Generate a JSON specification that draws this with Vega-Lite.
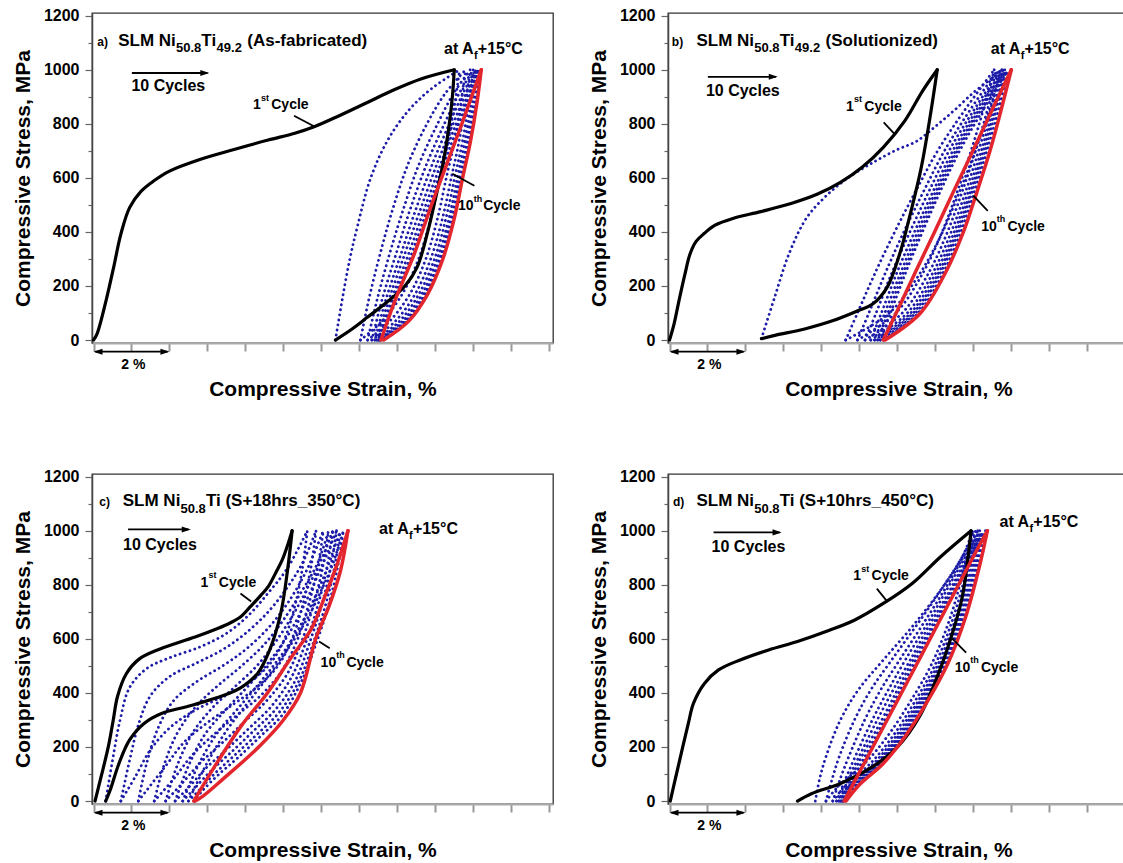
{
"$schema": "https://vega.github.io/schema/vega-lite/v6.json",
"padding": {"left": 11, "top": 7, "right": 0, "bottom": 0},
"autosize": {"type": "pad"},
"config": {"font": "Liberation Sans", "view": {"stroke": "#333", "strokeWidth": 1.3}, "axis": {"grid": false},
"axisX": {"values": [0,2,4,6,8,10,12], "labels": false, "tickSize": 8, "tickWidth": 2, "tickColor": "#999", "domainColor": "#aaa", "domainWidth": 2, "titleFont": "Liberation Sans", "titleFontSize": 21, "titleFontWeight": "bold", "titleColor": "#000", "titlePadding": 26},
"axisY": {"values": [0,20,40,60,80,100,120,140,160,180,200,220,240,260,280,300,320,340,360,380,400,420,440,460,480,500,520,540,560,580,600,620,640,660,680,700,720,740,760,780,800,820,840,860,880,900,920,940,960,980,1000,1020,1040,1060,1080,1100,1120,1140,1160,1180,1200], "labelOverlap": false, "labelFont": "Liberation Sans", "labelFontSize": 16, "labelFontWeight": "bold", "labelColor": "#000", "labelPadding": 6, "tickColor": "#666", "tickWidth": 1.2, "domainColor": "#444", "domainWidth": 1.5, "titleFont": "Liberation Sans", "titleFontSize": 21, "titleFontWeight": "bold", "titleColor": "#000", "titlePadding": 10},
"text": {"font": "Liberation Sans", "fontWeight": "bold", "color": "#000", "baseline": "alphabetic", "align": "left"}},
"data": {"values": [
{"p":"a","c":1,"g":"L","x":0,"y":0},{"p":"a","c":1,"g":"L","x":0.09,"y":22},{"p":"a","c":1,"g":"L","x":0.33,"y":146},{"p":"a","c":1,"g":"L","x":0.53,"y":269},{"p":"a","c":1,"g":"L","x":0.72,"y":392},{"p":"a","c":1,"g":"L","x":0.95,"y":490},{"p":"a","c":1,"g":"L","x":1.25,"y":550},{"p":"a","c":1,"g":"L","x":1.6,"y":590},{"p":"a","c":1,"g":"L","x":2.0,"y":625},{"p":"a","c":1,"g":"L","x":2.8,"y":668},{"p":"a","c":1,"g":"L","x":3.7,"y":705},{"p":"a","c":1,"g":"L","x":4.6,"y":740},{"p":"a","c":1,"g":"L","x":5.3,"y":765},{"p":"a","c":1,"g":"L","x":5.81,"y":789},{"p":"a","c":1,"g":"L","x":6.47,"y":830},{"p":"a","c":1,"g":"L","x":7.21,"y":879},{"p":"a","c":1,"g":"L","x":7.87,"y":923},{"p":"a","c":1,"g":"L","x":8.62,"y":966},{"p":"a","c":1,"g":"L","x":9.5,"y":1000},
{"p":"a","c":1,"g":"U","x":9.5,"y":1000},{"p":"a","c":1,"g":"U","x":9.45,"y":900},{"p":"a","c":1,"g":"U","x":9.35,"y":780},{"p":"a","c":1,"g":"U","x":9.2,"y":650},{"p":"a","c":1,"g":"U","x":9.0,"y":520},{"p":"a","c":1,"g":"U","x":8.8,"y":400},{"p":"a","c":1,"g":"U","x":8.52,"y":269},{"p":"a","c":1,"g":"U","x":8.2,"y":200},{"p":"a","c":1,"g":"U","x":7.78,"y":146},{"p":"a","c":1,"g":"U","x":7.21,"y":84},{"p":"a","c":1,"g":"U","x":6.8,"y":40},{"p":"a","c":1,"g":"U","x":6.37,"y":0},
{"p":"a","c":2,"g":"L","x":6.37,"y":0},{"p":"a","c":2,"g":"L","x":6.55,"y":150},{"p":"a","c":2,"g":"L","x":6.75,"y":300},{"p":"a","c":2,"g":"L","x":6.95,"y":420},{"p":"a","c":2,"g":"L","x":7.3,"y":600},{"p":"a","c":2,"g":"L","x":7.75,"y":740},{"p":"a","c":2,"g":"L","x":8.3,"y":850},{"p":"a","c":2,"g":"L","x":8.9,"y":930},{"p":"a","c":2,"g":"L","x":9.64,"y":1000},
{"p":"a","c":2,"g":"U","x":9.64,"y":1000},{"p":"a","c":2,"g":"U","x":9.52,"y":880},{"p":"a","c":2,"g":"U","x":9.33,"y":730},{"p":"a","c":2,"g":"U","x":9.12,"y":600},{"p":"a","c":2,"g":"U","x":8.88,"y":450},{"p":"a","c":2,"g":"U","x":8.56,"y":300},{"p":"a","c":2,"g":"U","x":8.13,"y":170},{"p":"a","c":2,"g":"U","x":7.6,"y":70},{"p":"a","c":2,"g":"U","x":7.03,"y":0},
{"p":"a","c":3,"g":"L","x":7.03,"y":0},{"p":"a","c":3,"g":"L","x":7.25,"y":150},{"p":"a","c":3,"g":"L","x":7.55,"y":320},{"p":"a","c":3,"g":"L","x":7.87,"y":480},{"p":"a","c":3,"g":"L","x":8.28,"y":650},{"p":"a","c":3,"g":"L","x":8.78,"y":800},{"p":"a","c":3,"g":"L","x":9.25,"y":910},{"p":"a","c":3,"g":"L","x":9.8,"y":1000},
{"p":"a","c":3,"g":"U","x":9.8,"y":1000},{"p":"a","c":3,"g":"U","x":9.68,"y":880},{"p":"a","c":3,"g":"U","x":9.5,"y":730},{"p":"a","c":3,"g":"U","x":9.29,"y":600},{"p":"a","c":3,"g":"U","x":9.06,"y":450},{"p":"a","c":3,"g":"U","x":8.75,"y":300},{"p":"a","c":3,"g":"U","x":8.33,"y":170},{"p":"a","c":3,"g":"U","x":7.8,"y":70},{"p":"a","c":3,"g":"U","x":7.22,"y":0},
{"p":"a","c":4,"g":"L","x":7.22,"y":0},{"p":"a","c":4,"g":"L","x":7.47,"y":150},{"p":"a","c":4,"g":"L","x":7.8,"y":320},{"p":"a","c":4,"g":"L","x":8.15,"y":480},{"p":"a","c":4,"g":"L","x":8.57,"y":650},{"p":"a","c":4,"g":"L","x":9.06,"y":800},{"p":"a","c":4,"g":"L","x":9.47,"y":910},{"p":"a","c":4,"g":"L","x":9.92,"y":1000},
{"p":"a","c":4,"g":"U","x":9.92,"y":1000},{"p":"a","c":4,"g":"U","x":9.8,"y":880},{"p":"a","c":4,"g":"U","x":9.62,"y":730},{"p":"a","c":4,"g":"U","x":9.42,"y":600},{"p":"a","c":4,"g":"U","x":9.19,"y":450},{"p":"a","c":4,"g":"U","x":8.88,"y":300},{"p":"a","c":4,"g":"U","x":8.47,"y":170},{"p":"a","c":4,"g":"U","x":7.95,"y":70},{"p":"a","c":4,"g":"U","x":7.33,"y":0},
{"p":"a","c":5,"g":"L","x":7.33,"y":0},{"p":"a","c":5,"g":"L","x":7.6,"y":150},{"p":"a","c":5,"g":"L","x":7.97,"y":320},{"p":"a","c":5,"g":"L","x":8.33,"y":480},{"p":"a","c":5,"g":"L","x":8.77,"y":650},{"p":"a","c":5,"g":"L","x":9.24,"y":800},{"p":"a","c":5,"g":"L","x":9.62,"y":910},{"p":"a","c":5,"g":"L","x":10.0,"y":1000},
{"p":"a","c":5,"g":"U","x":10.0,"y":1000},{"p":"a","c":5,"g":"U","x":9.89,"y":880},{"p":"a","c":5,"g":"U","x":9.71,"y":730},{"p":"a","c":5,"g":"U","x":9.51,"y":600},{"p":"a","c":5,"g":"U","x":9.28,"y":450},{"p":"a","c":5,"g":"U","x":8.98,"y":300},{"p":"a","c":5,"g":"U","x":8.57,"y":170},{"p":"a","c":5,"g":"U","x":8.06,"y":70},{"p":"a","c":5,"g":"U","x":7.41,"y":0},
{"p":"a","c":6,"g":"L","x":7.41,"y":0},{"p":"a","c":6,"g":"L","x":7.7,"y":150},{"p":"a","c":6,"g":"L","x":8.1,"y":320},{"p":"a","c":6,"g":"L","x":8.48,"y":480},{"p":"a","c":6,"g":"L","x":8.92,"y":650},{"p":"a","c":6,"g":"L","x":9.37,"y":800},{"p":"a","c":6,"g":"L","x":9.72,"y":910},{"p":"a","c":6,"g":"L","x":10.06,"y":1000},
{"p":"a","c":6,"g":"U","x":10.06,"y":1000},{"p":"a","c":6,"g":"U","x":9.95,"y":880},{"p":"a","c":6,"g":"U","x":9.77,"y":730},{"p":"a","c":6,"g":"U","x":9.58,"y":600},{"p":"a","c":6,"g":"U","x":9.36,"y":450},{"p":"a","c":6,"g":"U","x":9.05,"y":300},{"p":"a","c":6,"g":"U","x":8.65,"y":170},{"p":"a","c":6,"g":"U","x":8.14,"y":70},{"p":"a","c":6,"g":"U","x":7.46,"y":0},
{"p":"a","c":7,"g":"L","x":7.46,"y":0},{"p":"a","c":7,"g":"L","x":7.78,"y":150},{"p":"a","c":7,"g":"L","x":8.2,"y":320},{"p":"a","c":7,"g":"L","x":8.6,"y":480},{"p":"a","c":7,"g":"L","x":9.04,"y":650},{"p":"a","c":7,"g":"L","x":9.47,"y":800},{"p":"a","c":7,"g":"L","x":9.8,"y":910},{"p":"a","c":7,"g":"L","x":10.11,"y":1000},
{"p":"a","c":7,"g":"U","x":10.11,"y":1000},{"p":"a","c":7,"g":"U","x":10.0,"y":880},{"p":"a","c":7,"g":"U","x":9.82,"y":730},{"p":"a","c":7,"g":"U","x":9.63,"y":600},{"p":"a","c":7,"g":"U","x":9.41,"y":450},{"p":"a","c":7,"g":"U","x":9.11,"y":300},{"p":"a","c":7,"g":"U","x":8.71,"y":170},{"p":"a","c":7,"g":"U","x":8.2,"y":70},{"p":"a","c":7,"g":"U","x":7.5,"y":0},
{"p":"a","c":8,"g":"L","x":7.5,"y":0},{"p":"a","c":8,"g":"L","x":7.85,"y":150},{"p":"a","c":8,"g":"L","x":8.3,"y":320},{"p":"a","c":8,"g":"L","x":8.7,"y":480},{"p":"a","c":8,"g":"L","x":9.14,"y":650},{"p":"a","c":8,"g":"L","x":9.55,"y":800},{"p":"a","c":8,"g":"L","x":9.87,"y":910},{"p":"a","c":8,"g":"L","x":10.15,"y":1000},
{"p":"a","c":8,"g":"U","x":10.15,"y":1000},{"p":"a","c":8,"g":"U","x":10.04,"y":880},{"p":"a","c":8,"g":"U","x":9.86,"y":730},{"p":"a","c":8,"g":"U","x":9.67,"y":600},{"p":"a","c":8,"g":"U","x":9.45,"y":450},{"p":"a","c":8,"g":"U","x":9.15,"y":300},{"p":"a","c":8,"g":"U","x":8.75,"y":170},{"p":"a","c":8,"g":"U","x":8.24,"y":70},{"p":"a","c":8,"g":"U","x":7.53,"y":0},
{"p":"a","c":9,"g":"L","x":7.53,"y":0},{"p":"a","c":9,"g":"L","x":7.9,"y":150},{"p":"a","c":9,"g":"L","x":8.38,"y":320},{"p":"a","c":9,"g":"L","x":8.78,"y":480},{"p":"a","c":9,"g":"L","x":9.22,"y":650},{"p":"a","c":9,"g":"L","x":9.62,"y":800},{"p":"a","c":9,"g":"L","x":9.92,"y":910},{"p":"a","c":9,"g":"L","x":10.18,"y":1000},
{"p":"a","c":9,"g":"U","x":10.18,"y":1000},{"p":"a","c":9,"g":"U","x":10.07,"y":880},{"p":"a","c":9,"g":"U","x":9.89,"y":730},{"p":"a","c":9,"g":"U","x":9.7,"y":600},{"p":"a","c":9,"g":"U","x":9.48,"y":450},{"p":"a","c":9,"g":"U","x":9.18,"y":300},{"p":"a","c":9,"g":"U","x":8.78,"y":170},{"p":"a","c":9,"g":"U","x":8.27,"y":70},{"p":"a","c":9,"g":"U","x":7.56,"y":0},
{"p":"a","c":10,"g":"L","x":7.57,"y":0},{"p":"a","c":10,"g":"L","x":7.95,"y":150},{"p":"a","c":10,"g":"L","x":8.45,"y":320},{"p":"a","c":10,"g":"L","x":8.85,"y":480},{"p":"a","c":10,"g":"L","x":9.3,"y":650},{"p":"a","c":10,"g":"L","x":9.7,"y":800},{"p":"a","c":10,"g":"L","x":9.98,"y":910},{"p":"a","c":10,"g":"L","x":10.21,"y":1000},
{"p":"a","c":10,"g":"U","x":10.21,"y":1000},{"p":"a","c":10,"g":"U","x":10.1,"y":880},{"p":"a","c":10,"g":"U","x":9.92,"y":730},{"p":"a","c":10,"g":"U","x":9.72,"y":600},{"p":"a","c":10,"g":"U","x":9.5,"y":450},{"p":"a","c":10,"g":"U","x":9.2,"y":300},{"p":"a","c":10,"g":"U","x":8.8,"y":170},{"p":"a","c":10,"g":"U","x":8.3,"y":70},{"p":"a","c":10,"g":"U","x":7.64,"y":0},

{"p":"b","c":1,"g":"L","x":0,"y":0},{"p":"b","c":1,"g":"L","x":0.12,"y":60},{"p":"b","c":1,"g":"L","x":0.25,"y":146},{"p":"b","c":1,"g":"L","x":0.4,"y":240},{"p":"b","c":1,"g":"L","x":0.54,"y":318},{"p":"b","c":1,"g":"L","x":0.7,"y":365},{"p":"b","c":1,"g":"L","x":0.92,"y":395},{"p":"b","c":1,"g":"L","x":1.2,"y":425},{"p":"b","c":1,"g":"L","x":1.67,"y":450},{"p":"b","c":1,"g":"L","x":2.4,"y":475},{"p":"b","c":1,"g":"L","x":3.2,"y":505},{"p":"b","c":1,"g":"L","x":3.9,"y":540},{"p":"b","c":1,"g":"L","x":4.5,"y":583},{"p":"b","c":1,"g":"L","x":5.07,"y":639},{"p":"b","c":1,"g":"L","x":5.63,"y":713},{"p":"b","c":1,"g":"L","x":6.2,"y":812},{"p":"b","c":1,"g":"L","x":6.67,"y":923},{"p":"b","c":1,"g":"L","x":7.05,"y":1000},
{"p":"b","c":1,"g":"U","x":7.05,"y":1000},{"p":"b","c":1,"g":"U","x":6.86,"y":824},{"p":"b","c":1,"g":"U","x":6.63,"y":639},{"p":"b","c":1,"g":"U","x":6.34,"y":466},{"p":"b","c":1,"g":"U","x":6.06,"y":318},{"p":"b","c":1,"g":"U","x":5.73,"y":195},{"p":"b","c":1,"g":"U","x":5.35,"y":133},{"p":"b","c":1,"g":"U","x":4.97,"y":109},{"p":"b","c":1,"g":"U","x":4.31,"y":72},{"p":"b","c":1,"g":"U","x":3.56,"y":41},{"p":"b","c":1,"g":"U","x":2.8,"y":18},{"p":"b","c":1,"g":"U","x":2.42,"y":5},
{"p":"b","c":2,"g":"L","x":2.42,"y":5},{"p":"b","c":2,"g":"L","x":2.75,"y":150},{"p":"b","c":2,"g":"L","x":3.15,"y":320},{"p":"b","c":2,"g":"L","x":3.6,"y":450},{"p":"b","c":2,"g":"L","x":4.1,"y":530},{"p":"b","c":2,"g":"L","x":4.7,"y":600},{"p":"b","c":2,"g":"L","x":5.4,"y":660},{"p":"b","c":2,"g":"L","x":6.0,"y":705},{"p":"b","c":2,"g":"L","x":6.5,"y":735},{"p":"b","c":2,"g":"L","x":7.0,"y":790},{"p":"b","c":2,"g":"L","x":7.5,"y":850},{"p":"b","c":2,"g":"L","x":8.0,"y":915},{"p":"b","c":2,"g":"L","x":8.45,"y":965},{"p":"b","c":2,"g":"L","x":8.75,"y":1000},
{"p":"b","c":2,"g":"U","x":8.75,"y":1000},{"p":"b","c":2,"g":"U","x":8.42,"y":850},{"p":"b","c":2,"g":"U","x":8.05,"y":700},{"p":"b","c":2,"g":"U","x":7.64,"y":550},{"p":"b","c":2,"g":"U","x":7.19,"y":400},{"p":"b","c":2,"g":"U","x":6.61,"y":250},{"p":"b","c":2,"g":"U","x":5.79,"y":100},{"p":"b","c":2,"g":"U","x":4.64,"y":0},
{"p":"b","c":3,"g":"L","x":4.64,"y":0},{"p":"b","c":3,"g":"L","x":4.95,"y":100},{"p":"b","c":3,"g":"L","x":5.42,"y":250},{"p":"b","c":3,"g":"L","x":5.93,"y":400},{"p":"b","c":3,"g":"L","x":6.48,"y":550},{"p":"b","c":3,"g":"L","x":7.06,"y":700},{"p":"b","c":3,"g":"L","x":7.77,"y":850},{"p":"b","c":3,"g":"L","x":8.55,"y":1000},
{"p":"b","c":3,"g":"U","x":8.55,"y":1000},{"p":"b","c":3,"g":"U","x":8.26,"y":850},{"p":"b","c":3,"g":"U","x":7.94,"y":700},{"p":"b","c":3,"g":"U","x":7.58,"y":550},{"p":"b","c":3,"g":"U","x":7.18,"y":400},{"p":"b","c":3,"g":"U","x":6.68,"y":250},{"p":"b","c":3,"g":"U","x":5.96,"y":100},{"p":"b","c":3,"g":"U","x":4.95,"y":0},
{"p":"b","c":4,"g":"L","x":4.95,"y":0},{"p":"b","c":4,"g":"L","x":5.25,"y":100},{"p":"b","c":4,"g":"L","x":5.69,"y":250},{"p":"b","c":4,"g":"L","x":6.17,"y":400},{"p":"b","c":4,"g":"L","x":6.69,"y":550},{"p":"b","c":4,"g":"L","x":7.24,"y":700},{"p":"b","c":4,"g":"L","x":7.91,"y":850},{"p":"b","c":4,"g":"L","x":8.65,"y":1000},
{"p":"b","c":4,"g":"U","x":8.65,"y":1000},{"p":"b","c":4,"g":"U","x":8.37,"y":850},{"p":"b","c":4,"g":"U","x":8.06,"y":700},{"p":"b","c":4,"g":"U","x":7.71,"y":550},{"p":"b","c":4,"g":"U","x":7.32,"y":400},{"p":"b","c":4,"g":"U","x":6.83,"y":250},{"p":"b","c":4,"g":"U","x":6.13,"y":100},{"p":"b","c":4,"g":"U","x":5.15,"y":0},
{"p":"b","c":5,"g":"L","x":5.15,"y":0},{"p":"b","c":5,"g":"L","x":5.44,"y":100},{"p":"b","c":5,"g":"L","x":5.86,"y":250},{"p":"b","c":5,"g":"L","x":6.33,"y":400},{"p":"b","c":5,"g":"L","x":6.83,"y":550},{"p":"b","c":5,"g":"L","x":7.36,"y":700},{"p":"b","c":5,"g":"L","x":8.01,"y":850},{"p":"b","c":5,"g":"L","x":8.72,"y":1000},
{"p":"b","c":5,"g":"U","x":8.72,"y":1000},{"p":"b","c":5,"g":"U","x":8.45,"y":850},{"p":"b","c":5,"g":"U","x":8.14,"y":700},{"p":"b","c":5,"g":"U","x":7.8,"y":550},{"p":"b","c":5,"g":"U","x":7.42,"y":400},{"p":"b","c":5,"g":"U","x":6.94,"y":250},{"p":"b","c":5,"g":"U","x":6.26,"y":100},{"p":"b","c":5,"g":"U","x":5.3,"y":0},
{"p":"b","c":6,"g":"L","x":5.3,"y":0},{"p":"b","c":6,"g":"L","x":5.58,"y":100},{"p":"b","c":6,"g":"L","x":5.99,"y":250},{"p":"b","c":6,"g":"L","x":6.45,"y":400},{"p":"b","c":6,"g":"L","x":6.94,"y":550},{"p":"b","c":6,"g":"L","x":7.46,"y":700},{"p":"b","c":6,"g":"L","x":8.08,"y":850},{"p":"b","c":6,"g":"L","x":8.78,"y":1000},
{"p":"b","c":6,"g":"U","x":8.78,"y":1000},{"p":"b","c":6,"g":"U","x":8.51,"y":850},{"p":"b","c":6,"g":"U","x":8.21,"y":700},{"p":"b","c":6,"g":"U","x":7.87,"y":550},{"p":"b","c":6,"g":"U","x":7.5,"y":400},{"p":"b","c":6,"g":"U","x":7.02,"y":250},{"p":"b","c":6,"g":"U","x":6.35,"y":100},{"p":"b","c":6,"g":"U","x":5.4,"y":0},
{"p":"b","c":7,"g":"L","x":5.4,"y":0},{"p":"b","c":7,"g":"L","x":5.67,"y":100},{"p":"b","c":7,"g":"L","x":6.09,"y":250},{"p":"b","c":7,"g":"L","x":6.53,"y":400},{"p":"b","c":7,"g":"L","x":7.01,"y":550},{"p":"b","c":7,"g":"L","x":7.53,"y":700},{"p":"b","c":7,"g":"L","x":8.14,"y":850},{"p":"b","c":7,"g":"L","x":8.83,"y":1000},
{"p":"b","c":7,"g":"U","x":8.83,"y":1000},{"p":"b","c":7,"g":"U","x":8.56,"y":850},{"p":"b","c":7,"g":"U","x":8.26,"y":700},{"p":"b","c":7,"g":"U","x":7.93,"y":550},{"p":"b","c":7,"g":"U","x":7.56,"y":400},{"p":"b","c":7,"g":"U","x":7.09,"y":250},{"p":"b","c":7,"g":"U","x":6.42,"y":100},{"p":"b","c":7,"g":"U","x":5.48,"y":0},
{"p":"b","c":8,"g":"L","x":5.48,"y":0},{"p":"b","c":8,"g":"L","x":5.75,"y":100},{"p":"b","c":8,"g":"L","x":6.16,"y":250},{"p":"b","c":8,"g":"L","x":6.6,"y":400},{"p":"b","c":8,"g":"L","x":7.07,"y":550},{"p":"b","c":8,"g":"L","x":7.58,"y":700},{"p":"b","c":8,"g":"L","x":8.19,"y":850},{"p":"b","c":8,"g":"L","x":8.87,"y":1000},
{"p":"b","c":8,"g":"U","x":8.87,"y":1000},{"p":"b","c":8,"g":"U","x":8.6,"y":850},{"p":"b","c":8,"g":"U","x":8.31,"y":700},{"p":"b","c":8,"g":"U","x":7.97,"y":550},{"p":"b","c":8,"g":"U","x":7.61,"y":400},{"p":"b","c":8,"g":"U","x":7.14,"y":250},{"p":"b","c":8,"g":"U","x":6.48,"y":100},{"p":"b","c":8,"g":"U","x":5.55,"y":0},
{"p":"b","c":9,"g":"L","x":5.55,"y":0},{"p":"b","c":9,"g":"L","x":5.82,"y":100},{"p":"b","c":9,"g":"L","x":6.22,"y":250},{"p":"b","c":9,"g":"L","x":6.66,"y":400},{"p":"b","c":9,"g":"L","x":7.13,"y":550},{"p":"b","c":9,"g":"L","x":7.64,"y":700},{"p":"b","c":9,"g":"L","x":8.25,"y":850},{"p":"b","c":9,"g":"L","x":8.92,"y":1000},
{"p":"b","c":9,"g":"U","x":8.92,"y":1000},{"p":"b","c":9,"g":"U","x":8.66,"y":850},{"p":"b","c":9,"g":"U","x":8.36,"y":700},{"p":"b","c":9,"g":"U","x":8.03,"y":550},{"p":"b","c":9,"g":"U","x":7.67,"y":400},{"p":"b","c":9,"g":"U","x":7.21,"y":250},{"p":"b","c":9,"g":"U","x":6.55,"y":100},{"p":"b","c":9,"g":"U","x":5.63,"y":0},
{"p":"b","c":10,"g":"L","x":5.63,"y":0},{"p":"b","c":10,"g":"L","x":5.97,"y":100},{"p":"b","c":10,"g":"L","x":6.47,"y":250},{"p":"b","c":10,"g":"L","x":6.98,"y":400},{"p":"b","c":10,"g":"L","x":7.48,"y":550},{"p":"b","c":10,"g":"L","x":7.99,"y":700},{"p":"b","c":10,"g":"L","x":8.49,"y":850},{"p":"b","c":10,"g":"L","x":9.0,"y":1000},
{"p":"b","c":10,"g":"U","x":9.0,"y":1000},{"p":"b","c":10,"g":"U","x":8.73,"y":850},{"p":"b","c":10,"g":"U","x":8.44,"y":700},{"p":"b","c":10,"g":"U","x":8.1,"y":550},{"p":"b","c":10,"g":"U","x":7.74,"y":400},{"p":"b","c":10,"g":"U","x":7.27,"y":250},{"p":"b","c":10,"g":"U","x":6.61,"y":100},{"p":"b","c":10,"g":"U","x":5.68,"y":0},

{"p":"c","c":1,"g":"L","x":0.04,"y":0},{"p":"c","c":1,"g":"L","x":0.2,"y":90},{"p":"c","c":1,"g":"L","x":0.39,"y":201},{"p":"c","c":1,"g":"L","x":0.52,"y":300},{"p":"c","c":1,"g":"L","x":0.63,"y":386},{"p":"c","c":1,"g":"L","x":0.86,"y":470},{"p":"c","c":1,"g":"L","x":1.2,"y":525},{"p":"c","c":1,"g":"L","x":1.7,"y":560},{"p":"c","c":1,"g":"L","x":2.2,"y":585},{"p":"c","c":1,"g":"L","x":2.73,"y":610},{"p":"c","c":1,"g":"L","x":3.2,"y":635},{"p":"c","c":1,"g":"L","x":3.57,"y":657},{"p":"c","c":1,"g":"L","x":3.9,"y":685},{"p":"c","c":1,"g":"L","x":4.13,"y":719},{"p":"c","c":1,"g":"L","x":4.4,"y":760},{"p":"c","c":1,"g":"L","x":4.6,"y":793},{"p":"c","c":1,"g":"L","x":4.8,"y":845},{"p":"c","c":1,"g":"L","x":4.97,"y":892},{"p":"c","c":1,"g":"L","x":5.12,"y":950},{"p":"c","c":1,"g":"L","x":5.23,"y":1000},
{"p":"c","c":1,"g":"U","x":5.23,"y":1000},{"p":"c","c":1,"g":"U","x":5.11,"y":855},{"p":"c","c":1,"g":"U","x":4.93,"y":694},{"p":"c","c":1,"g":"U","x":4.64,"y":559},{"p":"c","c":1,"g":"U","x":4.32,"y":472},{"p":"c","c":1,"g":"U","x":3.85,"y":417},{"p":"c","c":1,"g":"U","x":3.2,"y":380},{"p":"c","c":1,"g":"U","x":2.45,"y":349},{"p":"c","c":1,"g":"U","x":1.79,"y":324},{"p":"c","c":1,"g":"U","x":1.33,"y":287},{"p":"c","c":1,"g":"U","x":0.95,"y":226},{"p":"c","c":1,"g":"U","x":0.67,"y":139},{"p":"c","c":1,"g":"U","x":0.44,"y":41},{"p":"c","c":1,"g":"U","x":0.32,"y":0},
{"p":"c","c":2,"g":"L","x":0.32,"y":0},{"p":"c","c":2,"g":"L","x":0.5,"y":150},{"p":"c","c":2,"g":"L","x":0.7,"y":300},{"p":"c","c":2,"g":"L","x":0.95,"y":420},{"p":"c","c":2,"g":"L","x":1.4,"y":490},{"p":"c","c":2,"g":"L","x":2.0,"y":530},{"p":"c","c":2,"g":"L","x":2.8,"y":570},{"p":"c","c":2,"g":"L","x":3.5,"y":620},{"p":"c","c":2,"g":"L","x":4.1,"y":690},{"p":"c","c":2,"g":"L","x":4.6,"y":770},{"p":"c","c":2,"g":"L","x":5.1,"y":860},{"p":"c","c":2,"g":"L","x":5.63,"y":1000},
{"p":"c","c":2,"g":"U","x":5.63,"y":1000},{"p":"c","c":2,"g":"U","x":5.5,"y":860},{"p":"c","c":2,"g":"U","x":5.3,"y":720},{"p":"c","c":2,"g":"U","x":5.0,"y":590},{"p":"c","c":2,"g":"U","x":4.6,"y":500},{"p":"c","c":2,"g":"U","x":4.0,"y":430},{"p":"c","c":2,"g":"U","x":3.3,"y":380},{"p":"c","c":2,"g":"U","x":2.6,"y":330},{"p":"c","c":2,"g":"U","x":2.0,"y":270},{"p":"c","c":2,"g":"U","x":1.5,"y":190},{"p":"c","c":2,"g":"U","x":1.1,"y":90},{"p":"c","c":2,"g":"U","x":0.72,"y":0},
{"p":"c","c":3,"g":"L","x":0.72,"y":0},{"p":"c","c":3,"g":"L","x":0.95,"y":150},{"p":"c","c":3,"g":"L","x":1.2,"y":290},{"p":"c","c":3,"g":"L","x":1.5,"y":390},{"p":"c","c":3,"g":"L","x":2.0,"y":460},{"p":"c","c":3,"g":"L","x":2.7,"y":510},{"p":"c","c":3,"g":"L","x":3.4,"y":560},{"p":"c","c":3,"g":"L","x":4.0,"y":620},{"p":"c","c":3,"g":"L","x":4.6,"y":700},{"p":"c","c":3,"g":"L","x":5.1,"y":790},{"p":"c","c":3,"g":"L","x":5.5,"y":880},{"p":"c","c":3,"g":"L","x":5.86,"y":1000},
{"p":"c","c":3,"g":"U","x":5.86,"y":1000},{"p":"c","c":3,"g":"U","x":5.72,"y":860},{"p":"c","c":3,"g":"U","x":5.5,"y":720},{"p":"c","c":3,"g":"U","x":5.2,"y":590},{"p":"c","c":3,"g":"U","x":4.8,"y":490},{"p":"c","c":3,"g":"U","x":4.2,"y":410},{"p":"c","c":3,"g":"U","x":3.6,"y":350},{"p":"c","c":3,"g":"U","x":3.0,"y":290},{"p":"c","c":3,"g":"U","x":2.4,"y":220},{"p":"c","c":3,"g":"U","x":1.9,"y":130},{"p":"c","c":3,"g":"U","x":1.18,"y":0},
{"p":"c","c":4,"g":"L","x":1.18,"y":0},{"p":"c","c":4,"g":"L","x":1.4,"y":140},{"p":"c","c":4,"g":"L","x":1.7,"y":270},{"p":"c","c":4,"g":"L","x":2.1,"y":370},{"p":"c","c":4,"g":"L","x":2.7,"y":440},{"p":"c","c":4,"g":"L","x":3.4,"y":500},{"p":"c","c":4,"g":"L","x":4.0,"y":560},{"p":"c","c":4,"g":"L","x":4.6,"y":640},{"p":"c","c":4,"g":"L","x":5.1,"y":730},{"p":"c","c":4,"g":"L","x":5.6,"y":850},{"p":"c","c":4,"g":"L","x":6.05,"y":1000},
{"p":"c","c":4,"g":"U","x":6.05,"y":1000},{"p":"c","c":4,"g":"U","x":5.9,"y":860},{"p":"c","c":4,"g":"U","x":5.65,"y":720},{"p":"c","c":4,"g":"U","x":5.35,"y":590},{"p":"c","c":4,"g":"U","x":4.95,"y":480},{"p":"c","c":4,"g":"U","x":4.4,"y":390},{"p":"c","c":4,"g":"U","x":3.8,"y":320},{"p":"c","c":4,"g":"U","x":3.2,"y":250},{"p":"c","c":4,"g":"U","x":2.6,"y":170},{"p":"c","c":4,"g":"U","x":2.1,"y":80},{"p":"c","c":4,"g":"U","x":1.6,"y":0},
{"p":"c","c":5,"g":"L","x":1.6,"y":0},{"p":"c","c":5,"g":"L","x":1.85,"y":130},{"p":"c","c":5,"g":"L","x":2.2,"y":250},{"p":"c","c":5,"g":"L","x":2.7,"y":350},{"p":"c","c":5,"g":"L","x":3.3,"y":430},{"p":"c","c":5,"g":"L","x":3.9,"y":500},{"p":"c","c":5,"g":"L","x":4.5,"y":580},{"p":"c","c":5,"g":"L","x":5.0,"y":670},{"p":"c","c":5,"g":"L","x":5.5,"y":780},{"p":"c","c":5,"g":"L","x":5.9,"y":880},{"p":"c","c":5,"g":"L","x":6.19,"y":1000},
{"p":"c","c":5,"g":"U","x":6.19,"y":1000},{"p":"c","c":5,"g":"U","x":6.03,"y":860},{"p":"c","c":5,"g":"U","x":5.78,"y":720},{"p":"c","c":5,"g":"U","x":5.48,"y":590},{"p":"c","c":5,"g":"U","x":5.1,"y":470},{"p":"c","c":5,"g":"U","x":4.55,"y":370},{"p":"c","c":5,"g":"U","x":3.95,"y":290},{"p":"c","c":5,"g":"U","x":3.35,"y":210},{"p":"c","c":5,"g":"U","x":2.8,"y":140},{"p":"c","c":5,"g":"U","x":2.3,"y":60},{"p":"c","c":5,"g":"U","x":1.9,"y":0},
{"p":"c","c":6,"g":"L","x":1.9,"y":0},{"p":"c","c":6,"g":"L","x":2.2,"y":130},{"p":"c","c":6,"g":"L","x":2.6,"y":250},{"p":"c","c":6,"g":"L","x":3.1,"y":340},{"p":"c","c":6,"g":"L","x":3.7,"y":420},{"p":"c","c":6,"g":"L","x":4.3,"y":500},{"p":"c","c":6,"g":"L","x":4.8,"y":590},{"p":"c","c":6,"g":"L","x":5.3,"y":700},{"p":"c","c":6,"g":"L","x":5.75,"y":820},{"p":"c","c":6,"g":"L","x":6.05,"y":910},{"p":"c","c":6,"g":"L","x":6.3,"y":1000},
{"p":"c","c":6,"g":"U","x":6.3,"y":1000},{"p":"c","c":6,"g":"U","x":6.14,"y":860},{"p":"c","c":6,"g":"U","x":5.9,"y":720},{"p":"c","c":6,"g":"U","x":5.6,"y":590},{"p":"c","c":6,"g":"U","x":5.22,"y":460},{"p":"c","c":6,"g":"U","x":4.68,"y":350},{"p":"c","c":6,"g":"U","x":4.1,"y":270},{"p":"c","c":6,"g":"U","x":3.5,"y":190},{"p":"c","c":6,"g":"U","x":2.95,"y":120},{"p":"c","c":6,"g":"U","x":2.5,"y":50},{"p":"c","c":6,"g":"U","x":2.15,"y":0},
{"p":"c","c":7,"g":"L","x":2.15,"y":0},{"p":"c","c":7,"g":"L","x":2.5,"y":130},{"p":"c","c":7,"g":"L","x":2.95,"y":250},{"p":"c","c":7,"g":"L","x":3.5,"y":340},{"p":"c","c":7,"g":"L","x":4.1,"y":430},{"p":"c","c":7,"g":"L","x":4.65,"y":520},{"p":"c","c":7,"g":"L","x":5.15,"y":620},{"p":"c","c":7,"g":"L","x":5.6,"y":740},{"p":"c","c":7,"g":"L","x":5.95,"y":850},{"p":"c","c":7,"g":"L","x":6.2,"y":930},{"p":"c","c":7,"g":"L","x":6.4,"y":1000},
{"p":"c","c":7,"g":"U","x":6.4,"y":1000},{"p":"c","c":7,"g":"U","x":6.24,"y":860},{"p":"c","c":7,"g":"U","x":6.0,"y":720},{"p":"c","c":7,"g":"U","x":5.7,"y":590},{"p":"c","c":7,"g":"U","x":5.33,"y":450},{"p":"c","c":7,"g":"U","x":4.8,"y":340},{"p":"c","c":7,"g":"U","x":4.22,"y":260},{"p":"c","c":7,"g":"U","x":3.62,"y":180},{"p":"c","c":7,"g":"U","x":3.08,"y":110},{"p":"c","c":7,"g":"U","x":2.65,"y":45},{"p":"c","c":7,"g":"U","x":2.35,"y":0},
{"p":"c","c":8,"g":"L","x":2.35,"y":0},{"p":"c","c":8,"g":"L","x":2.75,"y":130},{"p":"c","c":8,"g":"L","x":3.25,"y":250},{"p":"c","c":8,"g":"L","x":3.85,"y":350},{"p":"c","c":8,"g":"L","x":4.45,"y":450},{"p":"c","c":8,"g":"L","x":5.0,"y":550},{"p":"c","c":8,"g":"L","x":5.45,"y":650},{"p":"c","c":8,"g":"L","x":5.85,"y":760},{"p":"c","c":8,"g":"L","x":6.15,"y":860},{"p":"c","c":8,"g":"L","x":6.35,"y":940},{"p":"c","c":8,"g":"L","x":6.5,"y":1000},
{"p":"c","c":8,"g":"U","x":6.5,"y":1000},{"p":"c","c":8,"g":"U","x":6.34,"y":860},{"p":"c","c":8,"g":"U","x":6.1,"y":720},{"p":"c","c":8,"g":"U","x":5.8,"y":590},{"p":"c","c":8,"g":"U","x":5.43,"y":450},{"p":"c","c":8,"g":"U","x":4.9,"y":330},{"p":"c","c":8,"g":"U","x":4.33,"y":250},{"p":"c","c":8,"g":"U","x":3.72,"y":170},{"p":"c","c":8,"g":"U","x":3.18,"y":100},{"p":"c","c":8,"g":"U","x":2.78,"y":40},{"p":"c","c":8,"g":"U","x":2.5,"y":0},
{"p":"c","c":9,"g":"L","x":2.5,"y":0},{"p":"c","c":9,"g":"L","x":2.95,"y":130},{"p":"c","c":9,"g":"L","x":3.5,"y":260},{"p":"c","c":9,"g":"L","x":4.1,"y":370},{"p":"c","c":9,"g":"L","x":4.7,"y":480},{"p":"c","c":9,"g":"L","x":5.2,"y":580},{"p":"c","c":9,"g":"L","x":5.65,"y":680},{"p":"c","c":9,"g":"L","x":6.0,"y":780},{"p":"c","c":9,"g":"L","x":6.28,"y":870},{"p":"c","c":9,"g":"L","x":6.45,"y":940},{"p":"c","c":9,"g":"L","x":6.58,"y":1000},
{"p":"c","c":9,"g":"U","x":6.58,"y":1000},{"p":"c","c":9,"g":"U","x":6.42,"y":860},{"p":"c","c":9,"g":"U","x":6.18,"y":720},{"p":"c","c":9,"g":"U","x":5.88,"y":590},{"p":"c","c":9,"g":"U","x":5.5,"y":450},{"p":"c","c":9,"g":"U","x":4.98,"y":320},{"p":"c","c":9,"g":"U","x":4.4,"y":240},{"p":"c","c":9,"g":"U","x":3.8,"y":160},{"p":"c","c":9,"g":"U","x":3.27,"y":95},{"p":"c","c":9,"g":"U","x":2.88,"y":40},{"p":"c","c":9,"g":"U","x":2.64,"y":0},
{"p":"c","c":10,"g":"L","x":2.64,"y":0},{"p":"c","c":10,"g":"L","x":3.2,"y":130},{"p":"c","c":10,"g":"L","x":3.9,"y":280},{"p":"c","c":10,"g":"L","x":4.58,"y":400},{"p":"c","c":10,"g":"L","x":5.2,"y":530},{"p":"c","c":10,"g":"L","x":5.72,"y":633},{"p":"c","c":10,"g":"L","x":6.1,"y":760},{"p":"c","c":10,"g":"L","x":6.4,"y":870},{"p":"c","c":10,"g":"L","x":6.7,"y":1000},
{"p":"c","c":10,"g":"U","x":6.7,"y":1000},{"p":"c","c":10,"g":"U","x":6.5,"y":850},{"p":"c","c":10,"g":"U","x":6.2,"y":720},{"p":"c","c":10,"g":"U","x":5.85,"y":600},{"p":"c","c":10,"g":"U","x":5.45,"y":400},{"p":"c","c":10,"g":"U","x":5.0,"y":300},{"p":"c","c":10,"g":"U","x":4.35,"y":200},{"p":"c","c":10,"g":"U","x":3.4,"y":80},{"p":"c","c":10,"g":"U","x":2.9,"y":20},{"p":"c","c":10,"g":"U","x":2.68,"y":0},

{"p":"d","c":1,"g":"L","x":0.02,"y":0},{"p":"d","c":1,"g":"L","x":0.15,"y":80},{"p":"d","c":1,"g":"L","x":0.35,"y":201},{"p":"d","c":1,"g":"L","x":0.5,"y":290},{"p":"d","c":1,"g":"L","x":0.63,"y":361},{"p":"d","c":1,"g":"L","x":0.92,"y":435},{"p":"d","c":1,"g":"L","x":1.29,"y":485},{"p":"d","c":1,"g":"L","x":1.86,"y":522},{"p":"d","c":1,"g":"L","x":2.61,"y":559},{"p":"d","c":1,"g":"L","x":3.37,"y":590},{"p":"d","c":1,"g":"L","x":4.12,"y":627},{"p":"d","c":1,"g":"L","x":4.88,"y":670},{"p":"d","c":1,"g":"L","x":5.63,"y":731},{"p":"d","c":1,"g":"L","x":6.39,"y":805},{"p":"d","c":1,"g":"L","x":7.14,"y":904},{"p":"d","c":1,"g":"L","x":7.94,"y":1000},
{"p":"d","c":1,"g":"U","x":7.94,"y":1000},{"p":"d","c":1,"g":"U","x":7.71,"y":756},{"p":"d","c":1,"g":"U","x":7.42,"y":608},{"p":"d","c":1,"g":"U","x":7.05,"y":460},{"p":"d","c":1,"g":"U","x":6.58,"y":312},{"p":"d","c":1,"g":"U","x":6.01,"y":201},{"p":"d","c":1,"g":"U","x":5.35,"y":127},{"p":"d","c":1,"g":"U","x":4.5,"y":65},{"p":"d","c":1,"g":"U","x":3.75,"y":28},{"p":"d","c":1,"g":"U","x":3.37,"y":0},
{"p":"d","c":2,"g":"L","x":3.84,"y":0},{"p":"d","c":2,"g":"L","x":3.95,"y":80},{"p":"d","c":2,"g":"L","x":4.12,"y":164},{"p":"d","c":2,"g":"L","x":4.5,"y":300},{"p":"d","c":2,"g":"L","x":4.97,"y":411},{"p":"d","c":2,"g":"L","x":5.63,"y":522},{"p":"d","c":2,"g":"L","x":6.39,"y":645},{"p":"d","c":2,"g":"L","x":7.14,"y":781},{"p":"d","c":2,"g":"L","x":7.71,"y":904},{"p":"d","c":2,"g":"L","x":7.99,"y":1000},
{"p":"d","c":2,"g":"U","x":7.99,"y":1000},{"p":"d","c":2,"g":"U","x":7.79,"y":879},{"p":"d","c":2,"g":"U","x":7.4,"y":682},{"p":"d","c":2,"g":"U","x":6.91,"y":509},{"p":"d","c":2,"g":"U","x":6.31,"y":361},{"p":"d","c":2,"g":"U","x":5.73,"y":238},{"p":"d","c":2,"g":"U","x":5.14,"y":139},{"p":"d","c":2,"g":"U","x":4.48,"y":60},{"p":"d","c":2,"g":"U","x":4.12,"y":0},
{"p":"d","c":3,"g":"L","x":4.12,"y":0},{"p":"d","c":3,"g":"L","x":4.28,"y":80},{"p":"d","c":3,"g":"L","x":4.47,"y":164},{"p":"d","c":3,"g":"L","x":4.87,"y":300},{"p":"d","c":3,"g":"L","x":5.3,"y":411},{"p":"d","c":3,"g":"L","x":5.85,"y":522},{"p":"d","c":3,"g":"L","x":6.48,"y":645},{"p":"d","c":3,"g":"L","x":7.15,"y":781},{"p":"d","c":3,"g":"L","x":7.71,"y":904},{"p":"d","c":3,"g":"L","x":8.06,"y":1000},
{"p":"d","c":3,"g":"U","x":8.06,"y":1000},{"p":"d","c":3,"g":"U","x":7.87,"y":879},{"p":"d","c":3,"g":"U","x":7.48,"y":682},{"p":"d","c":3,"g":"U","x":7.01,"y":509},{"p":"d","c":3,"g":"U","x":6.43,"y":361},{"p":"d","c":3,"g":"U","x":5.87,"y":238},{"p":"d","c":3,"g":"U","x":5.29,"y":139},{"p":"d","c":3,"g":"U","x":4.65,"y":60},{"p":"d","c":3,"g":"U","x":4.3,"y":0},
{"p":"d","c":4,"g":"L","x":4.3,"y":0},{"p":"d","c":4,"g":"L","x":4.49,"y":80},{"p":"d","c":4,"g":"L","x":4.72,"y":164},{"p":"d","c":4,"g":"L","x":5.14,"y":300},{"p":"d","c":4,"g":"L","x":5.56,"y":411},{"p":"d","c":4,"g":"L","x":6.06,"y":522},{"p":"d","c":4,"g":"L","x":6.63,"y":645},{"p":"d","c":4,"g":"L","x":7.24,"y":781},{"p":"d","c":4,"g":"L","x":7.74,"y":904},{"p":"d","c":4,"g":"L","x":8.12,"y":1000},
{"p":"d","c":4,"g":"U","x":8.12,"y":1000},{"p":"d","c":4,"g":"U","x":7.93,"y":879},{"p":"d","c":4,"g":"U","x":7.55,"y":682},{"p":"d","c":4,"g":"U","x":7.08,"y":509},{"p":"d","c":4,"g":"U","x":6.51,"y":361},{"p":"d","c":4,"g":"U","x":5.95,"y":238},{"p":"d","c":4,"g":"U","x":5.38,"y":139},{"p":"d","c":4,"g":"U","x":4.75,"y":60},{"p":"d","c":4,"g":"U","x":4.4,"y":0},
{"p":"d","c":5,"g":"L","x":4.4,"y":0},{"p":"d","c":5,"g":"L","x":4.63,"y":80},{"p":"d","c":5,"g":"L","x":4.89,"y":164},{"p":"d","c":5,"g":"L","x":5.34,"y":300},{"p":"d","c":5,"g":"L","x":5.76,"y":411},{"p":"d","c":5,"g":"L","x":6.21,"y":522},{"p":"d","c":5,"g":"L","x":6.74,"y":645},{"p":"d","c":5,"g":"L","x":7.3,"y":781},{"p":"d","c":5,"g":"L","x":7.79,"y":904},{"p":"d","c":5,"g":"L","x":8.17,"y":1000},
{"p":"d","c":5,"g":"U","x":8.17,"y":1000},{"p":"d","c":5,"g":"U","x":7.98,"y":879},{"p":"d","c":5,"g":"U","x":7.6,"y":682},{"p":"d","c":5,"g":"U","x":7.13,"y":509},{"p":"d","c":5,"g":"U","x":6.56,"y":361},{"p":"d","c":5,"g":"U","x":6.01,"y":238},{"p":"d","c":5,"g":"U","x":5.44,"y":139},{"p":"d","c":5,"g":"U","x":4.81,"y":60},{"p":"d","c":5,"g":"U","x":4.46,"y":0},
{"p":"d","c":6,"g":"L","x":4.46,"y":0},{"p":"d","c":6,"g":"L","x":4.7,"y":80},{"p":"d","c":6,"g":"L","x":4.99,"y":164},{"p":"d","c":6,"g":"L","x":5.47,"y":300},{"p":"d","c":6,"g":"L","x":5.89,"y":411},{"p":"d","c":6,"g":"L","x":6.34,"y":522},{"p":"d","c":6,"g":"L","x":6.82,"y":645},{"p":"d","c":6,"g":"L","x":7.39,"y":781},{"p":"d","c":6,"g":"L","x":7.84,"y":904},{"p":"d","c":6,"g":"L","x":8.21,"y":1000},
{"p":"d","c":6,"g":"U","x":8.21,"y":1000},{"p":"d","c":6,"g":"U","x":8.02,"y":879},{"p":"d","c":6,"g":"U","x":7.64,"y":682},{"p":"d","c":6,"g":"U","x":7.17,"y":509},{"p":"d","c":6,"g":"U","x":6.6,"y":361},{"p":"d","c":6,"g":"U","x":6.05,"y":238},{"p":"d","c":6,"g":"U","x":5.48,"y":139},{"p":"d","c":6,"g":"U","x":4.85,"y":60},{"p":"d","c":6,"g":"U","x":4.5,"y":0},
{"p":"d","c":7,"g":"L","x":4.5,"y":0},{"p":"d","c":7,"g":"L","x":4.76,"y":80},{"p":"d","c":7,"g":"L","x":5.06,"y":164},{"p":"d","c":7,"g":"L","x":5.59,"y":300},{"p":"d","c":7,"g":"L","x":6.0,"y":411},{"p":"d","c":7,"g":"L","x":6.41,"y":522},{"p":"d","c":7,"g":"L","x":6.9,"y":645},{"p":"d","c":7,"g":"L","x":7.43,"y":781},{"p":"d","c":7,"g":"L","x":7.88,"y":904},{"p":"d","c":7,"g":"L","x":8.25,"y":1000},
{"p":"d","c":7,"g":"U","x":8.25,"y":1000},{"p":"d","c":7,"g":"U","x":8.06,"y":879},{"p":"d","c":7,"g":"U","x":7.68,"y":682},{"p":"d","c":7,"g":"U","x":7.21,"y":509},{"p":"d","c":7,"g":"U","x":6.64,"y":361},{"p":"d","c":7,"g":"U","x":6.09,"y":238},{"p":"d","c":7,"g":"U","x":5.52,"y":139},{"p":"d","c":7,"g":"U","x":4.89,"y":60},{"p":"d","c":7,"g":"U","x":4.54,"y":0},
{"p":"d","c":8,"g":"L","x":4.54,"y":0},{"p":"d","c":8,"g":"L","x":4.82,"y":80},{"p":"d","c":8,"g":"L","x":5.14,"y":164},{"p":"d","c":8,"g":"L","x":5.66,"y":300},{"p":"d","c":8,"g":"L","x":6.07,"y":411},{"p":"d","c":8,"g":"L","x":6.48,"y":522},{"p":"d","c":8,"g":"L","x":6.95,"y":645},{"p":"d","c":8,"g":"L","x":7.48,"y":781},{"p":"d","c":8,"g":"L","x":7.92,"y":904},{"p":"d","c":8,"g":"L","x":8.28,"y":1000},
{"p":"d","c":8,"g":"U","x":8.28,"y":1000},{"p":"d","c":8,"g":"U","x":8.09,"y":879},{"p":"d","c":8,"g":"U","x":7.71,"y":682},{"p":"d","c":8,"g":"U","x":7.24,"y":509},{"p":"d","c":8,"g":"U","x":6.67,"y":361},{"p":"d","c":8,"g":"U","x":6.12,"y":238},{"p":"d","c":8,"g":"U","x":5.55,"y":139},{"p":"d","c":8,"g":"U","x":4.92,"y":60},{"p":"d","c":8,"g":"U","x":4.57,"y":0},
{"p":"d","c":9,"g":"L","x":4.57,"y":0},{"p":"d","c":9,"g":"L","x":4.87,"y":80},{"p":"d","c":9,"g":"L","x":5.19,"y":164},{"p":"d","c":9,"g":"L","x":5.71,"y":300},{"p":"d","c":9,"g":"L","x":6.13,"y":411},{"p":"d","c":9,"g":"L","x":6.54,"y":522},{"p":"d","c":9,"g":"L","x":7.01,"y":645},{"p":"d","c":9,"g":"L","x":7.53,"y":781},{"p":"d","c":9,"g":"L","x":7.98,"y":904},{"p":"d","c":9,"g":"L","x":8.32,"y":1000},
{"p":"d","c":9,"g":"U","x":8.32,"y":1000},{"p":"d","c":9,"g":"U","x":8.13,"y":879},{"p":"d","c":9,"g":"U","x":7.75,"y":682},{"p":"d","c":9,"g":"U","x":7.28,"y":509},{"p":"d","c":9,"g":"U","x":6.71,"y":361},{"p":"d","c":9,"g":"U","x":6.15,"y":238},{"p":"d","c":9,"g":"U","x":5.58,"y":139},{"p":"d","c":9,"g":"U","x":4.95,"y":60},{"p":"d","c":9,"g":"U","x":4.6,"y":0},
{"p":"d","c":10,"g":"L","x":4.6,"y":0},{"p":"d","c":10,"g":"L","x":4.9,"y":80},{"p":"d","c":10,"g":"L","x":5.22,"y":164},{"p":"d","c":10,"g":"L","x":5.73,"y":300},{"p":"d","c":10,"g":"L","x":6.15,"y":411},{"p":"d","c":10,"g":"L","x":6.57,"y":522},{"p":"d","c":10,"g":"L","x":7.03,"y":645},{"p":"d","c":10,"g":"L","x":7.54,"y":781},{"p":"d","c":10,"g":"L","x":8.0,"y":904},{"p":"d","c":10,"g":"L","x":8.37,"y":1000},
{"p":"d","c":10,"g":"U","x":8.37,"y":1000},{"p":"d","c":10,"g":"U","x":8.18,"y":879},{"p":"d","c":10,"g":"U","x":7.8,"y":682},{"p":"d","c":10,"g":"U","x":7.33,"y":509},{"p":"d","c":10,"g":"U","x":6.76,"y":361},{"p":"d","c":10,"g":"U","x":6.2,"y":238},{"p":"d","c":10,"g":"U","x":5.63,"y":139},{"p":"d","c":10,"g":"U","x":5.0,"y":60},{"p":"d","c":10,"g":"U","x":4.65,"y":0},

{"p":"a","k":"tA","x":0.1,"y":1088,"t":"a)"},{"p":"a","k":"tM","x":0.65,"y":1088,"t":"SLM Ni"},{"p":"a","k":"tS","x":2.17,"y":1066,"t":"50.8"},{"p":"a","k":"tM","x":2.84,"y":1088,"t":"Ti"},{"p":"a","k":"tS","x":3.24,"y":1066,"t":"49.2"},{"p":"a","k":"tM","x":4.05,"y":1088,"t":"(As-fabricated)"},
{"p":"a","k":"tB","x":9.23,"y":1058,"t":"at A"},{"p":"a","k":"tf","x":10.02,"y":1040,"t":"f"},{"p":"a","k":"tB","x":10.12,"y":1058,"t":"+15°C"},
{"p":"a","k":"tC","x":1.97,"y":920,"t":"10 Cycles"},
{"p":"a","k":"tL","x":4.2,"y":855,"t":"1"},{"p":"a","k":"tU","x":4.41,"y":885,"t":"st"},{"p":"a","k":"tL","x":4.68,"y":855,"t":"Cycle"},
{"p":"a","k":"tL","x":9.6,"y":481,"t":"10"},{"p":"a","k":"tU","x":10.01,"y":509,"t":"th"},{"p":"a","k":"tL","x":10.26,"y":481,"t":"Cycle"},
{"p":"a","k":"t2","x":1.05,"y":-108,"t":"2 %"},
{"p":"a","k":"r","x":1.01,"y":988,"x2":3.0,"y2":988},{"p":"a","k":"r","x":5.28,"y":830,"x2":5.83,"y2":789},{"p":"a","k":"r","x":10.03,"y":571,"x2":9.45,"y2":615},{"p":"a","k":"r","x":0.05,"y":-43,"x2":1.95,"y2":-43},
{"p":"a","k":"hR","x":3.05,"y":988},{"p":"a","k":"hR","x":2,"y":-43},{"p":"a","k":"hL","x":0,"y":-43},

{"p":"b","k":"tA","x":0.06,"y":1088,"t":"b)"},{"p":"b","k":"tM","x":0.71,"y":1088,"t":"SLM Ni"},{"p":"b","k":"tS","x":2.23,"y":1066,"t":"50.8"},{"p":"b","k":"tM","x":2.9,"y":1088,"t":"Ti"},{"p":"b","k":"tS","x":3.3,"y":1066,"t":"49.2"},{"p":"b","k":"tM","x":4.11,"y":1088,"t":"(Solutionized)"},
{"p":"b","k":"tB","x":8.46,"y":1058,"t":"at A"},{"p":"b","k":"tf","x":9.25,"y":1040,"t":"f"},{"p":"b","k":"tB","x":9.35,"y":1058,"t":"+15°C"},
{"p":"b","k":"tC","x":1.93,"y":904,"t":"10 Cycles"},
{"p":"b","k":"tL","x":4.65,"y":846,"t":"1"},{"p":"b","k":"tU","x":4.86,"y":879,"t":"st"},{"p":"b","k":"tL","x":5.13,"y":846,"t":"Cycle"},
{"p":"b","k":"tL","x":8.21,"y":404,"t":"10"},{"p":"b","k":"tU","x":8.62,"y":435,"t":"th"},{"p":"b","k":"tL","x":8.9,"y":404,"t":"Cycle"},
{"p":"b","k":"t2","x":1.05,"y":-108,"t":"2 %"},
{"p":"b","k":"r","x":1.01,"y":974,"x2":2.8,"y2":974},{"p":"b","k":"r","x":5.64,"y":805,"x2":5.93,"y2":762},{"p":"b","k":"r","x":8.38,"y":478,"x2":8.0,"y2":534},{"p":"b","k":"r","x":0.05,"y":-43,"x2":1.95,"y2":-43},
{"p":"b","k":"hR","x":2.85,"y":974},{"p":"b","k":"hR","x":2,"y":-43},{"p":"b","k":"hL","x":0,"y":-43},

{"p":"c","k":"tA","x":0.15,"y":1090,"t":"c)"},{"p":"c","k":"tM","x":0.77,"y":1090,"t":"SLM Ni"},{"p":"c","k":"tS","x":2.29,"y":1066,"t":"50.8"},{"p":"c","k":"tM","x":2.96,"y":1090,"t":"Ti (S+18hrs_350°C)"},
{"p":"c","k":"tB","x":7.52,"y":988,"t":"at A"},{"p":"c","k":"tf","x":8.31,"y":970,"t":"f"},{"p":"c","k":"tB","x":8.41,"y":988,"t":"+15°C"},
{"p":"c","k":"tC","x":1.75,"y":929,"t":"10 Cycles"},
{"p":"c","k":"tL","x":2.82,"y":793,"t":"1"},{"p":"c","k":"tU","x":3.03,"y":824,"t":"st"},{"p":"c","k":"tL","x":3.3,"y":793,"t":"Cycle"},
{"p":"c","k":"tL","x":5.98,"y":495,"t":"10"},{"p":"c","k":"tU","x":6.39,"y":528,"t":"th"},{"p":"c","k":"tL","x":6.66,"y":495,"t":"Cycle"},
{"p":"c","k":"t2","x":1.05,"y":-108,"t":"2 %"},
{"p":"c","k":"r","x":0.91,"y":1005,"x2":2.5,"y2":1005},{"p":"c","k":"r","x":3.87,"y":768,"x2":4.15,"y2":738},{"p":"c","k":"r","x":6.22,"y":565,"x2":5.94,"y2":590},{"p":"c","k":"r","x":0.05,"y":-43,"x2":1.95,"y2":-43},
{"p":"c","k":"hR","x":2.56,"y":1005},{"p":"c","k":"hR","x":2,"y":-43},{"p":"c","k":"hL","x":0,"y":-43},

{"p":"d","k":"tA","x":0.09,"y":1090,"t":"d)"},{"p":"d","k":"tM","x":0.71,"y":1090,"t":"SLM Ni"},{"p":"d","k":"tS","x":2.23,"y":1066,"t":"50.8"},{"p":"d","k":"tM","x":2.9,"y":1090,"t":"Ti (S+10hrs_450°C)"},
{"p":"d","k":"tB","x":8.69,"y":1013,"t":"at A"},{"p":"d","k":"tf","x":9.48,"y":995,"t":"f"},{"p":"d","k":"tB","x":9.58,"y":1013,"t":"+15°C"},
{"p":"d","k":"tC","x":2.08,"y":922,"t":"10 Cycles"},
{"p":"d","k":"tL","x":4.84,"y":818,"t":"1"},{"p":"d","k":"tU","x":5.05,"y":848,"t":"st"},{"p":"d","k":"tL","x":5.32,"y":818,"t":"Cycle"},
{"p":"d","k":"tL","x":7.51,"y":478,"t":"10"},{"p":"d","k":"tU","x":7.92,"y":511,"t":"th"},{"p":"d","k":"tL","x":8.2,"y":478,"t":"Cycle"},
{"p":"d","k":"t2","x":1.05,"y":-108,"t":"2 %"},
{"p":"d","k":"r","x":1.16,"y":994,"x2":2.9,"y2":994},{"p":"d","k":"r","x":5.46,"y":786,"x2":5.74,"y2":737},{"p":"d","k":"r","x":7.81,"y":549,"x2":7.44,"y2":602},{"p":"d","k":"r","x":0.05,"y":-43,"x2":1.95,"y2":-43},
{"p":"d","k":"hR","x":2.95,"y":994},{"p":"d","k":"hR","x":2,"y":-43},{"p":"d","k":"hL","x":0,"y":-43}
]},
"columns": 2,
"spacing": {"row": 131, "column": 115},
"bounds": "flush",
"concat": [
{"transform": [{"filter": "datum.p == 'a'"}], "width": 461, "height": 330,
"encoding": {"x": {"field": "x", "type": "quantitative", "scale": {"domain": [-0.04, 12.1], "nice": false, "zero": false}, "axis": {"title": "Compressive Strain, %"}},
"y": {"field": "y", "type": "quantitative", "scale": {"domain": [-11, 1210], "nice": false, "zero": false}, "axis": {"title": "Compressive Stress, MPa", "labelExpr": "datum.value % 200 === 0 ? '' + datum.value : ''", "tickSize": {"condition": {"test": "datum.value % 200 === 0", "value": 7}, "value": 4}}}},
"layer": [
{"transform": [{"filter": "datum.c > 1 && datum.c < 10"}], "mark": {"type": "line", "interpolate": "catmull-rom", "color": "#1c1ca8", "strokeWidth": 2.8, "strokeDash": [0.1, 5], "strokeCap": "round"}, "encoding": {"detail": [{"field": "c"}, {"field": "g"}]}},
{"transform": [{"filter": "datum.c == 1"}], "mark": {"type": "line", "interpolate": "catmull-rom", "color": "#000", "strokeWidth": 3.2, "strokeCap": "round", "strokeJoin": "round"}, "encoding": {"detail": [{"field": "c"}, {"field": "g"}]}},
{"transform": [{"filter": "datum.c == 10"}], "mark": {"type": "line", "interpolate": "catmull-rom", "color": "#e3262d", "strokeWidth": 3.5, "strokeCap": "round", "strokeJoin": "round"}, "encoding": {"detail": [{"field": "c"}, {"field": "g"}]}},
{"transform": [{"filter": "datum.k == 'r'"}], "mark": {"type": "rule", "color": "#000", "strokeWidth": 1.8}, "encoding": {"x2": {"field": "x2"}, "y2": {"field": "y2"}}},
{"transform": [{"filter": "datum.k == 'hR'"}], "mark": {"type": "point", "shape": "M0,0L-2,-0.67L-2,0.67Z", "filled": true, "size": 81, "color": "#000", "opacity": 1, "strokeWidth": 0}},
{"transform": [{"filter": "datum.k == 'hL'"}], "mark": {"type": "point", "shape": "M0,0L2,-0.67L2,0.67Z", "filled": true, "size": 81, "color": "#000", "opacity": 1, "strokeWidth": 0}},
{"transform": [{"filter": "datum.k == 'tA'"}], "mark": {"type": "text", "fontSize": 12}, "encoding": {"text": {"field": "t"}}},
{"transform": [{"filter": "datum.k == 'tM'"}], "mark": {"type": "text", "fontSize": 17}, "encoding": {"text": {"field": "t"}}},
{"transform": [{"filter": "datum.k == 'tS'"}], "mark": {"type": "text", "fontSize": 13}, "encoding": {"text": {"field": "t"}}},
{"transform": [{"filter": "datum.k == 'tB'"}], "mark": {"type": "text", "fontSize": 16}, "encoding": {"text": {"field": "t"}}},
{"transform": [{"filter": "datum.k == 'tf'"}], "mark": {"type": "text", "fontSize": 11}, "encoding": {"text": {"field": "t"}}},
{"transform": [{"filter": "datum.k == 'tC'"}], "mark": {"type": "text", "fontSize": 16, "align": "center"}, "encoding": {"text": {"field": "t"}}},
{"transform": [{"filter": "datum.k == 'tL'"}], "mark": {"type": "text", "fontSize": 14}, "encoding": {"text": {"field": "t"}}},
{"transform": [{"filter": "datum.k == 'tU'"}], "mark": {"type": "text", "fontSize": 9}, "encoding": {"text": {"field": "t"}}},
{"transform": [{"filter": "datum.k == 't2'"}], "mark": {"type": "text", "fontSize": 14, "align": "center"}, "encoding": {"text": {"field": "t"}}}
]},
{"transform": [{"filter": "datum.p == 'b'"}], "width": 461, "height": 330,
"encoding": {"x": {"field": "x", "type": "quantitative", "scale": {"domain": [-0.04, 12.1], "nice": false, "zero": false}, "axis": {"title": "Compressive Strain, %"}},
"y": {"field": "y", "type": "quantitative", "scale": {"domain": [-11, 1210], "nice": false, "zero": false}, "axis": {"title": "Compressive Stress, MPa", "labelExpr": "datum.value % 200 === 0 ? '' + datum.value : ''", "tickSize": {"condition": {"test": "datum.value % 200 === 0", "value": 7}, "value": 4}}}},
"layer": [
{"transform": [{"filter": "datum.c > 1 && datum.c < 10"}], "mark": {"type": "line", "interpolate": "catmull-rom", "color": "#1c1ca8", "strokeWidth": 2.8, "strokeDash": [0.1, 5], "strokeCap": "round"}, "encoding": {"detail": [{"field": "c"}, {"field": "g"}]}},
{"transform": [{"filter": "datum.c == 1"}], "mark": {"type": "line", "interpolate": "catmull-rom", "color": "#000", "strokeWidth": 3.2, "strokeCap": "round", "strokeJoin": "round"}, "encoding": {"detail": [{"field": "c"}, {"field": "g"}]}},
{"transform": [{"filter": "datum.c == 10"}], "mark": {"type": "line", "interpolate": "catmull-rom", "color": "#e3262d", "strokeWidth": 3.5, "strokeCap": "round", "strokeJoin": "round"}, "encoding": {"detail": [{"field": "c"}, {"field": "g"}]}},
{"transform": [{"filter": "datum.k == 'r'"}], "mark": {"type": "rule", "color": "#000", "strokeWidth": 1.8}, "encoding": {"x2": {"field": "x2"}, "y2": {"field": "y2"}}},
{"transform": [{"filter": "datum.k == 'hR'"}], "mark": {"type": "point", "shape": "M0,0L-2,-0.67L-2,0.67Z", "filled": true, "size": 81, "color": "#000", "opacity": 1, "strokeWidth": 0}},
{"transform": [{"filter": "datum.k == 'hL'"}], "mark": {"type": "point", "shape": "M0,0L2,-0.67L2,0.67Z", "filled": true, "size": 81, "color": "#000", "opacity": 1, "strokeWidth": 0}},
{"transform": [{"filter": "datum.k == 'tA'"}], "mark": {"type": "text", "fontSize": 12}, "encoding": {"text": {"field": "t"}}},
{"transform": [{"filter": "datum.k == 'tM'"}], "mark": {"type": "text", "fontSize": 17}, "encoding": {"text": {"field": "t"}}},
{"transform": [{"filter": "datum.k == 'tS'"}], "mark": {"type": "text", "fontSize": 13}, "encoding": {"text": {"field": "t"}}},
{"transform": [{"filter": "datum.k == 'tB'"}], "mark": {"type": "text", "fontSize": 16}, "encoding": {"text": {"field": "t"}}},
{"transform": [{"filter": "datum.k == 'tf'"}], "mark": {"type": "text", "fontSize": 11}, "encoding": {"text": {"field": "t"}}},
{"transform": [{"filter": "datum.k == 'tC'"}], "mark": {"type": "text", "fontSize": 16, "align": "center"}, "encoding": {"text": {"field": "t"}}},
{"transform": [{"filter": "datum.k == 'tL'"}], "mark": {"type": "text", "fontSize": 14}, "encoding": {"text": {"field": "t"}}},
{"transform": [{"filter": "datum.k == 'tU'"}], "mark": {"type": "text", "fontSize": 9}, "encoding": {"text": {"field": "t"}}},
{"transform": [{"filter": "datum.k == 't2'"}], "mark": {"type": "text", "fontSize": 14, "align": "center"}, "encoding": {"text": {"field": "t"}}}
]},
{"transform": [{"filter": "datum.p == 'c'"}], "width": 461, "height": 330,
"encoding": {"x": {"field": "x", "type": "quantitative", "scale": {"domain": [-0.04, 12.1], "nice": false, "zero": false}, "axis": {"title": "Compressive Strain, %"}},
"y": {"field": "y", "type": "quantitative", "scale": {"domain": [-11, 1210], "nice": false, "zero": false}, "axis": {"title": "Compressive Stress, MPa", "labelExpr": "datum.value % 200 === 0 ? '' + datum.value : ''", "tickSize": {"condition": {"test": "datum.value % 200 === 0", "value": 7}, "value": 4}}}},
"layer": [
{"transform": [{"filter": "datum.c > 1 && datum.c < 10"}], "mark": {"type": "line", "interpolate": "catmull-rom", "color": "#1c1ca8", "strokeWidth": 2.8, "strokeDash": [0.1, 5], "strokeCap": "round"}, "encoding": {"detail": [{"field": "c"}, {"field": "g"}]}},
{"transform": [{"filter": "datum.c == 1"}], "mark": {"type": "line", "interpolate": "catmull-rom", "color": "#000", "strokeWidth": 3.2, "strokeCap": "round", "strokeJoin": "round"}, "encoding": {"detail": [{"field": "c"}, {"field": "g"}]}},
{"transform": [{"filter": "datum.c == 10"}], "mark": {"type": "line", "interpolate": "catmull-rom", "color": "#e3262d", "strokeWidth": 3.5, "strokeCap": "round", "strokeJoin": "round"}, "encoding": {"detail": [{"field": "c"}, {"field": "g"}]}},
{"transform": [{"filter": "datum.k == 'r'"}], "mark": {"type": "rule", "color": "#000", "strokeWidth": 1.8}, "encoding": {"x2": {"field": "x2"}, "y2": {"field": "y2"}}},
{"transform": [{"filter": "datum.k == 'hR'"}], "mark": {"type": "point", "shape": "M0,0L-2,-0.67L-2,0.67Z", "filled": true, "size": 81, "color": "#000", "opacity": 1, "strokeWidth": 0}},
{"transform": [{"filter": "datum.k == 'hL'"}], "mark": {"type": "point", "shape": "M0,0L2,-0.67L2,0.67Z", "filled": true, "size": 81, "color": "#000", "opacity": 1, "strokeWidth": 0}},
{"transform": [{"filter": "datum.k == 'tA'"}], "mark": {"type": "text", "fontSize": 12}, "encoding": {"text": {"field": "t"}}},
{"transform": [{"filter": "datum.k == 'tM'"}], "mark": {"type": "text", "fontSize": 17}, "encoding": {"text": {"field": "t"}}},
{"transform": [{"filter": "datum.k == 'tS'"}], "mark": {"type": "text", "fontSize": 13}, "encoding": {"text": {"field": "t"}}},
{"transform": [{"filter": "datum.k == 'tB'"}], "mark": {"type": "text", "fontSize": 16}, "encoding": {"text": {"field": "t"}}},
{"transform": [{"filter": "datum.k == 'tf'"}], "mark": {"type": "text", "fontSize": 11}, "encoding": {"text": {"field": "t"}}},
{"transform": [{"filter": "datum.k == 'tC'"}], "mark": {"type": "text", "fontSize": 16, "align": "center"}, "encoding": {"text": {"field": "t"}}},
{"transform": [{"filter": "datum.k == 'tL'"}], "mark": {"type": "text", "fontSize": 14}, "encoding": {"text": {"field": "t"}}},
{"transform": [{"filter": "datum.k == 'tU'"}], "mark": {"type": "text", "fontSize": 9}, "encoding": {"text": {"field": "t"}}},
{"transform": [{"filter": "datum.k == 't2'"}], "mark": {"type": "text", "fontSize": 14, "align": "center"}, "encoding": {"text": {"field": "t"}}}
]},
{"transform": [{"filter": "datum.p == 'd'"}], "width": 461, "height": 330,
"encoding": {"x": {"field": "x", "type": "quantitative", "scale": {"domain": [-0.04, 12.1], "nice": false, "zero": false}, "axis": {"title": "Compressive Strain, %"}},
"y": {"field": "y", "type": "quantitative", "scale": {"domain": [-11, 1210], "nice": false, "zero": false}, "axis": {"title": "Compressive Stress, MPa", "labelExpr": "datum.value % 200 === 0 ? '' + datum.value : ''", "tickSize": {"condition": {"test": "datum.value % 200 === 0", "value": 7}, "value": 4}}}},
"layer": [
{"transform": [{"filter": "datum.c > 1 && datum.c < 10"}], "mark": {"type": "line", "interpolate": "catmull-rom", "color": "#1c1ca8", "strokeWidth": 2.8, "strokeDash": [0.1, 5], "strokeCap": "round"}, "encoding": {"detail": [{"field": "c"}, {"field": "g"}]}},
{"transform": [{"filter": "datum.c == 1"}], "mark": {"type": "line", "interpolate": "catmull-rom", "color": "#000", "strokeWidth": 3.2, "strokeCap": "round", "strokeJoin": "round"}, "encoding": {"detail": [{"field": "c"}, {"field": "g"}]}},
{"transform": [{"filter": "datum.c == 10"}], "mark": {"type": "line", "interpolate": "catmull-rom", "color": "#e3262d", "strokeWidth": 3.5, "strokeCap": "round", "strokeJoin": "round"}, "encoding": {"detail": [{"field": "c"}, {"field": "g"}]}},
{"transform": [{"filter": "datum.k == 'r'"}], "mark": {"type": "rule", "color": "#000", "strokeWidth": 1.8}, "encoding": {"x2": {"field": "x2"}, "y2": {"field": "y2"}}},
{"transform": [{"filter": "datum.k == 'hR'"}], "mark": {"type": "point", "shape": "M0,0L-2,-0.67L-2,0.67Z", "filled": true, "size": 81, "color": "#000", "opacity": 1, "strokeWidth": 0}},
{"transform": [{"filter": "datum.k == 'hL'"}], "mark": {"type": "point", "shape": "M0,0L2,-0.67L2,0.67Z", "filled": true, "size": 81, "color": "#000", "opacity": 1, "strokeWidth": 0}},
{"transform": [{"filter": "datum.k == 'tA'"}], "mark": {"type": "text", "fontSize": 12}, "encoding": {"text": {"field": "t"}}},
{"transform": [{"filter": "datum.k == 'tM'"}], "mark": {"type": "text", "fontSize": 17}, "encoding": {"text": {"field": "t"}}},
{"transform": [{"filter": "datum.k == 'tS'"}], "mark": {"type": "text", "fontSize": 13}, "encoding": {"text": {"field": "t"}}},
{"transform": [{"filter": "datum.k == 'tB'"}], "mark": {"type": "text", "fontSize": 16}, "encoding": {"text": {"field": "t"}}},
{"transform": [{"filter": "datum.k == 'tf'"}], "mark": {"type": "text", "fontSize": 11}, "encoding": {"text": {"field": "t"}}},
{"transform": [{"filter": "datum.k == 'tC'"}], "mark": {"type": "text", "fontSize": 16, "align": "center"}, "encoding": {"text": {"field": "t"}}},
{"transform": [{"filter": "datum.k == 'tL'"}], "mark": {"type": "text", "fontSize": 14}, "encoding": {"text": {"field": "t"}}},
{"transform": [{"filter": "datum.k == 'tU'"}], "mark": {"type": "text", "fontSize": 9}, "encoding": {"text": {"field": "t"}}},
{"transform": [{"filter": "datum.k == 't2'"}], "mark": {"type": "text", "fontSize": 14, "align": "center"}, "encoding": {"text": {"field": "t"}}}
]}
]
}
